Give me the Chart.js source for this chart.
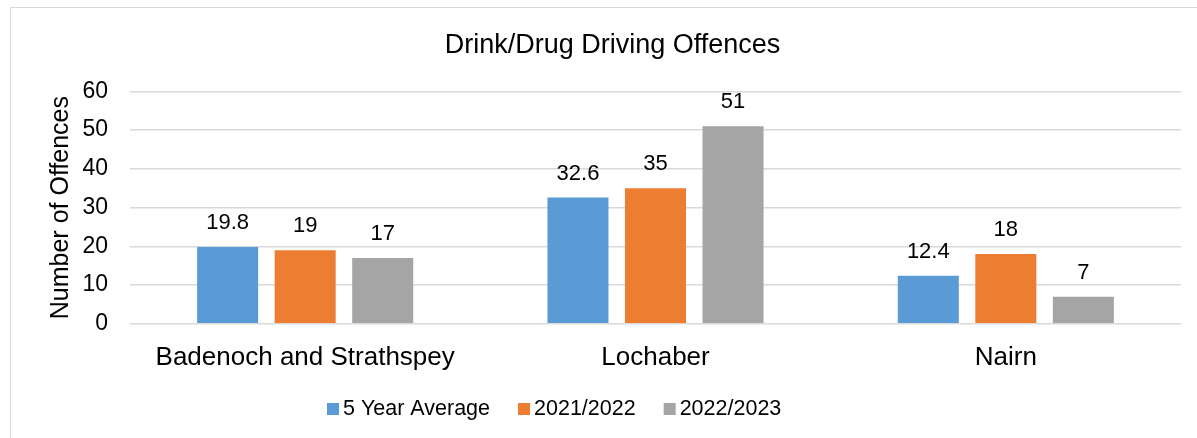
<!DOCTYPE html>
<html>
<head>
<meta charset="utf-8">
<script src="https://cdn.jsdelivr.net/npm/chart.js@4.4.0/dist/chart.umd.min.js"></script>
<style>
  html, body { margin: 0; padding: 0; background: #fff; }
  #wrap { position: relative; width: 1197px; height: 438px; overflow: hidden; }
  #frame { position: absolute; left: 10px; top: 7px; width: 1200px; height: 440px; border: 1px solid #d9d9d9; box-sizing: border-box; }
  #box { position: absolute; left: 0; top: 0; width: 1197px; height: 438px; }
</style>
</head>
<body>
<div id="wrap">
  <div id="frame"></div>
  <div id="box"><canvas id="chart"></canvas></div>
</div>
<script>
// data
const categories = ["Badenoch and Strathspey", "Lochaber", "Nairn"];
const seriesNames = ["5 Year Average", "2021/2022", "2022/2023"];
const avg5 = [19.8, 32.6, 12.4];
const y2122 = [19, 35, 18];
const y2223 = [17, 51, 7];
const yTicks = [0, 10, 20, 30, 40, 50, 60];

const colors = ["#5b9bd5", "#ed7d31", "#a5a5a5"];
const FONT = "'Liberation Sans', Arial, sans-serif";

// value labels above bars
const barLabels = {
  id: 'barLabels',
  afterDatasetsDraw(chart) {
    const ctx = chart.ctx;
    ctx.save();
    ctx.font = `22px ${FONT}`;
    ctx.fillStyle = '#000';
    ctx.textAlign = 'center';
    ctx.textBaseline = 'middle';
    chart.data.datasets.forEach((ds, i) => {
      chart.getDatasetMeta(i).data.forEach((bar, j) => {
        ctx.fillText(String(ds.data[j]), bar.x, bar.y - 24);
      });
    });
    ctx.restore();
  }
};

// legend drawn by hand (small box-to-text gap like the original)
const bottomLegend = {
  id: 'bottomLegend',
  afterDraw(chart) {
    const ctx = chart.ctx;
    ctx.save();
    ctx.font = `21.5px ${FONT}`;
    ctx.textBaseline = 'middle';
    let x = 327;
    const y = 409;
    chart.data.datasets.forEach(ds => {
      ctx.fillStyle = ds.backgroundColor;
      ctx.fillRect(x, y - 6, 12, 12);
      ctx.fillStyle = '#000';
      ctx.fillText(ds.label, x + 16, y);
      x += 16 + ctx.measureText(ds.label).width + 28;
    });
    ctx.restore();
  }
};

new Chart(document.getElementById('chart'), {
  type: 'bar',
  data: {
    labels: categories,
    datasets: [avg5, y2122, y2223].map((d, i) => ({
      label: seriesNames[i],
      data: d,
      backgroundColor: colors[i],
      categoryPercentage: 0.664,
      barPercentage: 0.787
    }))
  },
  options: {
    responsive: true,
    maintainAspectRatio: false,
    animation: false,
    layout: { padding: { left: 44, right: 16, top: 0, bottom: 55 } },
    plugins: {
      title: {
        display: true,
        text: 'Drink/Drug Driving Offences',
        color: '#000',
        font: { family: FONT, size: 27, weight: 'normal' },
        padding: { top: 29, bottom: 30 }
      },
      legend: { display: false },
      tooltip: { enabled: false }
    },
    scales: {
      x: {
        grid: { display: false },
        border: { display: false },
        ticks: { color: '#000', font: { family: FONT, size: 26 }, padding: 10 }
      },
      y: {
        min: 0,
        max: 60,
        afterBuildTicks: axis => { axis.ticks = yTicks.map(v => ({ value: v })); },
        afterFit: axis => { axis.width = 86; },
        grid: { color: '#d9d9d9', lineWidth: 1.5, drawTicks: false },
        border: { display: false },
        ticks: { color: '#000', font: { family: FONT, size: 23 }, padding: 22 },
        title: {
          display: true,
          text: 'Number of Offences',
          color: '#000',
          font: { family: FONT, size: 25 },
          padding: 2
        }
      }
    }
  },
  plugins: [barLabels, bottomLegend]
});
</script>
</body>
</html>
